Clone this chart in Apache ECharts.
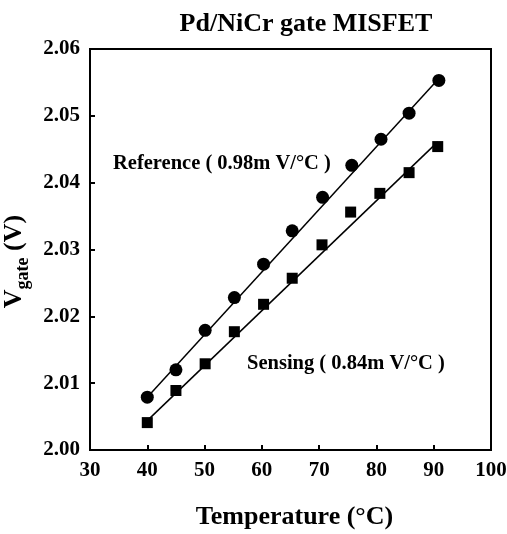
<!DOCTYPE html>
<html>
<head>
<meta charset="utf-8">
<script src="https://cdn.jsdelivr.net/npm/echarts@6/dist/echarts.min.js"></script>
<style>
  html, body { margin: 0; padding: 0; background: #fff; }
  #chart { width: 507px; height: 534px; }
</style>
</head>
<body>
<div id="chart"></div>
<script>
// data
var refTemp = [40, 45, 50.1, 55.2, 60.3, 65.3, 70.6, 75.7, 80.8, 85.7, 90.9];
var refVgate = [2.0079, 2.0120, 2.0179, 2.0228, 2.0278, 2.0328, 2.0378, 2.0426, 2.0465, 2.0504, 2.0553];
var senTemp = [40, 45, 50.1, 55.2, 60.3, 65.3, 70.5, 75.5, 80.6, 85.7, 90.7];
var senVgate = [2.0041, 2.0089, 2.0129, 2.0177, 2.0218, 2.0257, 2.0307, 2.0356, 2.0384, 2.0415, 2.0454];
// linear fits (end points)
var refFitTemp = [40, 90.9];
var refFitVgate = [2.0079, 2.0556];
var senFitTemp = [40, 90.7];
var senFitVgate = [2.0044, 2.0461];
var xTicks = [30, 40, 50, 60, 70, 80, 90, 100];
var yTicks = [2.00, 2.01, 2.02, 2.03, 2.04, 2.05, 2.06];

var font = "Liberation Serif";

function pairs(xs, ys) {
  return xs.map(function (x, i) { return [x, ys[i]]; });
}

var myChart = echarts.init(document.getElementById("chart"));

var axisCommon = {
  axisLine: { show: true, lineStyle: { color: "#000", width: 2 } },
  axisTick: { show: true, inside: true, length: 5, lineStyle: { color: "#000", width: 2 } },
  splitLine: { show: false },
  axisLabel: { color: "#000", fontFamily: font, fontWeight: "bold", fontSize: 21 }
};

var option = {
  backgroundColor: "#fff",
  animation: false,
  title: {
    text: "Pd/NiCr gate MISFET",
    left: 301,
    top: 6,
    textAlign: "center",
    textStyle: { fontFamily: font, fontWeight: "bold", fontSize: 26, color: "#000" }
  },
  grid: {
    left: 90, right: 16, top: 49, bottom: 84,
    outerBoundsMode: "none",
    containLabel: false,
    show: true, borderColor: "#000", borderWidth: 2, backgroundColor: "transparent"
  },
  xAxis: Object.assign({}, axisCommon, {
    type: "value",
    min: xTicks[0],
    max: xTicks[xTicks.length - 1],
    interval: 10,
    axisLabel: Object.assign({}, axisCommon.axisLabel, { margin: 10 }),
    name: "Temperature (°C)",
    nameLocation: "middle",
    nameGap: 54,
    nameTextStyle: { fontFamily: font, fontWeight: "bold", fontSize: 26, color: "#000", padding: [0, 0, 0, 8] }
  }),
  yAxis: Object.assign({}, axisCommon, {
    type: "value",
    min: yTicks[0],
    max: yTicks[yTicks.length - 1],
    interval: 0.01,
    axisLabel: Object.assign({}, axisCommon.axisLabel, {
      margin: 10,
      formatter: function (v) { return v.toFixed(2); }
    }),
    name: "{v|V}{s|gate}{v| (V)}",
    nameLocation: "middle",
    nameRotate: 90,
    nameGap: 54,
    nameTextStyle: {
      padding: [0, 24, 0, 0],
      rich: {
        v: { fontFamily: font, fontWeight: "bold", fontSize: 26, color: "#000", verticalAlign: "bottom", lineHeight: 30 },
        s: { fontFamily: font, fontWeight: "bold", fontSize: 18, color: "#000", verticalAlign: "bottom", lineHeight: 22, padding: [0, 0, -5, 0] }
      }
    }
  }),
  series: [
    {
      name: "Reference fit",
      type: "line",
      data: pairs(refFitTemp, refFitVgate),
      symbol: "none",
      lineStyle: { color: "#000", width: 1.5 },
      z: 2
    },
    {
      name: "Sensing fit",
      type: "line",
      data: pairs(senFitTemp, senFitVgate),
      symbol: "none",
      lineStyle: { color: "#000", width: 1.5 },
      z: 2
    },
    {
      name: "Reference",
      type: "scatter",
      data: pairs(refTemp, refVgate),
      symbol: "circle",
      symbolSize: 13,
      itemStyle: { color: "#000", opacity: 1 },
      z: 3
    },
    {
      name: "Sensing",
      type: "scatter",
      data: pairs(senTemp, senVgate),
      symbol: "rect",
      symbolSize: 11,
      itemStyle: { color: "#000", opacity: 1 },
      z: 3
    }
  ],
  graphic: [
    {
      type: "text",
      left: 113,
      top: 153,
      style: {
        text: "Reference ( 0.98m V/°C )",
        fontFamily: font, fontWeight: "bold", fontSize: 20.5, fill: "#000"
      }
    },
    {
      type: "text",
      left: 247,
      top: 353,
      style: {
        text: "Sensing ( 0.84m V/°C )",
        fontFamily: font, fontWeight: "bold", fontSize: 20.5, fill: "#000"
      }
    }
  ]
};

myChart.setOption(option);
</script>
</body>
</html>
